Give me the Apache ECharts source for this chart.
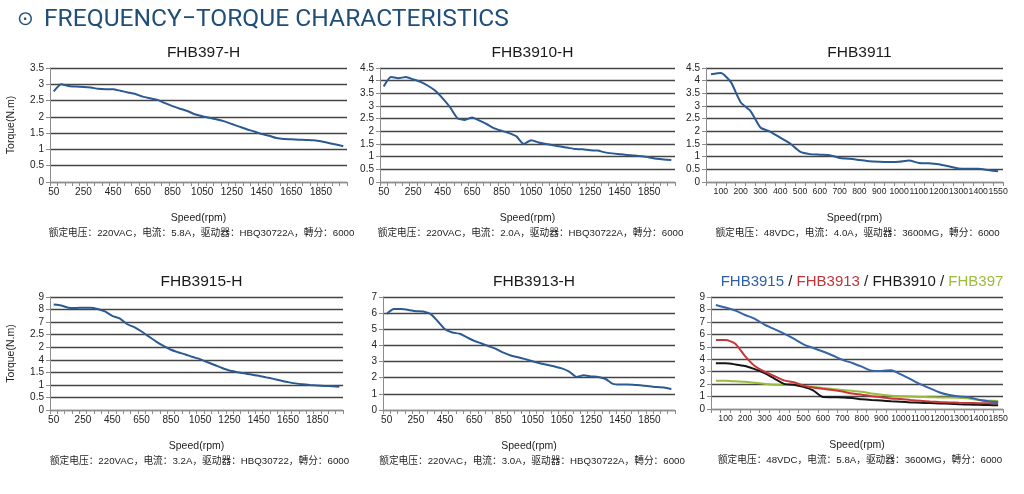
<!DOCTYPE html>
<html>
<head>
<meta charset="utf-8">
<title>Frequency-Torque Characteristics</title>
<script src="https://cdn.jsdelivr.net/npm/echarts@6/dist/echarts.min.js"></script>
<style>
  html, body { margin: 0; padding: 0; background: #fff; }
  #main { width: 1024px; height: 494px; }
</style>
</head>
<body>
<div id="main"></div>
<script>
// 转速分类 (rpm)
const speedA = ["50","100","150","200","250","300","350","400","450","500","550","600","650","700","750","800","850","900","950","1000",
  "1050","1100","1150","1200","1250","1300","1350","1400","1450","1500","1550","1600","1650","1700","1750","1800","1850","1900","1950","2000"];
const speedB = ["50","100","150","200","250","300","350","400","450","500","550","600","650","700","750","800","850","900","950","1000",
  "1050","900","950","1000","1050","1100","1150","1200","1250","1300","1350","1400","1450","1650","1700","1800","1850","1900","1950","2000"];
const speedC = ["50","100","150","200","250","300","350","400","450","500","550","600","650","700","750","800","850","900","950","1000",
  "1050","1100","1150","1200","1250","1300","1350","1400","1450","1550"];
const speedD = ["50","100","150","200","250","300","350","400","450","500","550","600","650","700","750","800","850","900","950","1000",
  "1050","1100","1150","1200","1250","1300","1350","1400","1450","1850"];

// 转矩数据 (N.m)
const torque397 = [2.78, 3.0, 2.95, 2.93, 2.92, 2.9, 2.86, 2.85, 2.85, 2.8, 2.75, 2.7, 2.62, 2.57, 2.52, 2.42, 2.33, 2.25, 2.18, 2.08,
  2.02, 1.97, 1.92, 1.86, 1.78, 1.7, 1.62, 1.55, 1.47, 1.42, 1.35, 1.32, 1.31, 1.3, 1.29, 1.28, 1.25, 1.2, 1.15, 1.1];
const torque3910 = [3.77, 4.14, 4.1, 4.14, 4.05, 3.95, 3.8, 3.6, 3.3, 2.95, 2.52, 2.45, 2.55, 2.42, 2.28, 2.12, 2.02, 1.93, 1.8, 1.5,
  1.65, 1.56, 1.5, 1.45, 1.4, 1.35, 1.3, 1.29, 1.25, 1.24, 1.17, 1.13, 1.1, 1.07, 1.05, 1.02, 0.97, 0.92, 0.89, 0.87];
const torque3911 = [4.25, 4.3, 3.95, 3.15, 2.8, 2.15, 1.98, 1.75, 1.52, 1.2, 1.1, 1.08, 1.06, 0.95, 0.92, 0.87, 0.82, 0.8, 0.79, 0.8,
  0.85, 0.75, 0.74, 0.7, 0.62, 0.53, 0.52, 0.52, 0.47, 0.42];
const torque3915 = [8.4, 8.32, 8.15, 8.12, 8.15, 8.15, 8.05, 7.85, 7.5, 7.3, 6.85, 6.6, 6.25, 5.85, 5.45, 5.1, 4.8, 4.6, 4.42, 4.22,
  4.05, 3.8, 3.58, 3.35, 3.15, 3.03, 2.92, 2.82, 2.72, 2.6, 2.48, 2.35, 2.22, 2.12, 2.05, 2.0, 1.96, 1.92, 1.89, 1.86];
const torque3913 = [5.95, 6.25, 6.25, 6.2, 6.12, 6.1, 5.95, 5.5, 5.0, 4.8, 4.72, 4.5, 4.28, 4.12, 3.95, 3.78, 3.55, 3.38, 3.27, 3.15,
  3.02, 2.9, 2.8, 2.7, 2.58, 2.38, 2.05, 2.15, 2.08, 2.05, 1.92, 1.62, 1.58, 1.58, 1.55, 1.52, 1.47, 1.42, 1.4, 1.3];

// 对比图 (48VDC)
const mix3915 = [8.36, 8.15, 7.9, 7.55, 7.25, 6.78, 6.42, 6.05, 5.65, 5.2, 4.9, 4.62, 4.3, 3.95, 3.7, 3.4, 3.08, 3.06, 3.12, 2.78,
  2.4, 2.0, 1.66, 1.33, 1.12, 1.0, 0.95, 0.75, 0.62, 0.55];
const mix3913 = [5.55, 5.55, 5.25, 4.25, 3.45, 3.0, 2.65, 2.3, 2.15, 1.88, 1.72, 1.62, 1.52, 1.4, 1.25, 1.15, 1.03, 0.95, 0.85, 0.8,
  0.72, 0.66, 0.6, 0.56, 0.53, 0.5, 0.48, 0.47, 0.47, 0.47];
const mix3910 = [3.67, 3.67, 3.58, 3.45, 3.2, 2.88, 2.45, 2.02, 1.95, 1.78, 1.5, 0.96, 0.95, 0.92, 0.88, 0.78, 0.72, 0.68, 0.62, 0.58,
  0.53, 0.5, 0.48, 0.45, 0.42, 0.38, 0.36, 0.34, 0.32, 0.3];
const mix397 = [2.28, 2.27, 2.22, 2.18, 2.1, 2.02, 1.95, 1.93, 1.92, 1.85, 1.77, 1.68, 1.6, 1.53, 1.46, 1.38, 1.25, 1.15, 1.07, 1.03,
  1.0, 0.97, 0.95, 0.93, 0.92, 0.9, 0.85, 0.72, 0.67, 0.64];

// FHB3915-H 纵轴刻度文字(原图如此)
const yLabels3915 = ["0", "0.5", "1", "1.5", "4", "2", "2.5", "7", "8", "9"];

const FONT = "'Liberation Sans', Arial, sans-serif";
const LINE_BLUE = "#2b5a93";

// 各子图
const panels = [
  { title: "FHB397-H", cats: speedA, every: 4, max: 3.5, step: 0.5, yName: "Torque(N.m)",
    note: "额定电压：220VAC，电流：5.8A，驱动器：HBQ30722A，轉分：6000",
    box: [50, 68, 297, 114], lines: [{ data: torque397, color: LINE_BLUE }] },
  { title: "FHB3910-H", cats: speedB, every: 4, max: 4.5, step: 0.5,
    note: "额定电压：220VAC，电流：2.0A，驱动器：HBQ30722A，轉分：6000",
    box: [380, 68, 295, 114], lines: [{ data: torque3910, color: LINE_BLUE }] },
  { title: "FHB3911", cats: speedC, every: 2, max: 4.5, step: 0.5,
    note: "额定电压：48VDC，电流：4.0A，驱动器：3600MG，轉分：6000",
    box: [706, 68, 297, 114], lines: [{ data: torque3911, color: LINE_BLUE }] },
  { title: "FHB3915-H", cats: speedA, every: 4, max: 9, step: 1, yName: "Torque(N.m)", yLabels: yLabels3915,
    note: "额定电压：220VAC，电流：3.2A，驱动器：HBQ30722，轉分：6000",
    box: [50, 297, 293, 113], lines: [{ data: torque3915, color: LINE_BLUE }] },
  { title: "FHB3913-H", cats: speedB, every: 4, max: 7, step: 1,
    note: "额定电压：220VAC，电流：3.0A，驱动器：HBQ30722A，轉分：6000",
    box: [383, 297, 292, 113], lines: [{ data: torque3913, color: LINE_BLUE }] },
  { title: "{b|FHB3915} / {r|FHB3913} / FHB3910 / {g|FHB397}", cats: speedD, every: 2, max: 9, step: 1, big: true,
    note: "额定电压：48VDC，电流：5.8A，驱动器：3600MG，轉分：6000",
    box: [711, 297, 292, 112],
    lines: [
      { data: mix397, color: "#9bbb3d" },
      { data: mix3910, color: "#151515" },
      { data: mix3913, color: "#c8373a" },
      { data: mix3915, color: "#3565a8" },
    ] },
];

const grid = [], xAxis = [], yAxis = [], series = [], title = [];
const graphic = [
  { type: "text", style: { x: 17, y: 20, text: "⊙", font: "20px 'DejaVu Sans'", fill: "#1f4e79", textVerticalAlign: "middle" } },
  { type: "text", style: { x: 44, y: 20, text: "FREQUENCY−TORQUE CHARACTERISTICS", font: "24.6px Roboto", fill: "#1f4e79", textVerticalAlign: "middle" } },
];

panels.forEach((p, i) => {
  const [left, top, width, height] = p.box;
  const cx = left + width / 2;
  const dense = p.every === 2;
  grid.push({ left, top, width, height });
  title.push({
    text: p.title,
    left: cx,
    top: top - 28,
    textAlign: "center",
    textStyle: {
      fontFamily: FONT, fontWeight: "normal", fontSize: p.big ? 15 : 15.5, color: "#1a1a1a",
      rich: {
        b: { fontFamily: FONT, fontSize: 15, color: "#2f5fa3" },
        r: { fontFamily: FONT, fontSize: 15, color: "#c0353a" },
        g: { fontFamily: FONT, fontSize: 15, color: "#9bbb3d" },
      },
    },
  });
  xAxis.push({
    type: "category", gridIndex: i, data: p.cats, boundaryGap: true,
    name: "Speed(rpm)", nameLocation: "middle", nameGap: 31,
    nameTextStyle: { fontFamily: FONT, fontSize: 10.5, color: "#222" },
    axisLine: { lineStyle: { color: "#8c8c8c", width: 1 } },
    axisTick: { show: true, interval: 0, length: 4, lineStyle: { color: "#8c8c8c" } },
    axisLabel: {
      interval: dense ? (idx) => idx % 2 === 1 : 3,
      hideOverlap: false,
      showMaxLabel: dense ? true : null,
      fontFamily: FONT, fontSize: dense ? 8.7 : 10, color: "#222", margin: 5,
    },
    splitLine: { show: false },
  });
  yAxis.push({
    type: "value", gridIndex: i, min: 0, max: p.max, interval: p.step,
    name: p.yName || "", nameLocation: "middle", nameGap: 33,
    nameTextStyle: { fontFamily: FONT, fontSize: 10.5, color: "#222" },
    axisLine: { show: true, lineStyle: { color: "#8c8c8c", width: 1 } },
    axisTick: { show: true, length: 4, lineStyle: { color: "#8c8c8c" } },
    axisLabel: {
      fontFamily: FONT, fontSize: 10, color: "#222", margin: 6,
      formatter: p.yLabels ? (v) => p.yLabels[Math.round(v)] : null,
    },
    splitLine: { lineStyle: { color: "#454545", width: 1.4 } },
  });
  p.lines.forEach((l) => {
    series.push({
      type: "line", xAxisIndex: i, yAxisIndex: i, data: l.data,
      symbol: "none", smooth: 0.2,
      lineStyle: { color: l.color, width: 2 },
    });
  });
  graphic.push({
    type: "text",
    style: {
      x: cx + 3, y: top + height + 51, text: p.note,
      font: "9.7px 'Liberation Sans', 'Noto Sans CJK SC'", fill: "#222",
      textAlign: "center", textVerticalAlign: "middle",
    },
  });
});

var myChart = echarts.init(document.getElementById("main"));
myChart.setOption({
  animation: false,
  backgroundColor: "#fff",
  textStyle: { fontFamily: FONT },
  title, grid, xAxis, yAxis, series, graphic,
});
</script>
</body>
</html>
